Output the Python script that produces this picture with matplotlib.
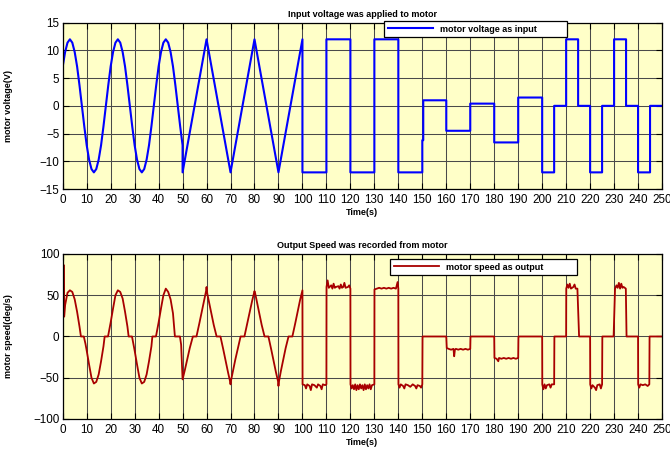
import numpy as np
import matplotlib
matplotlib.use("Agg")
import matplotlib.pyplot as plt

plt.rcParams['font.family'] = ['Liberation Sans', 'DejaVu Sans']

# ---- input voltage: sine part (0-50 s), sampled every second ----
sine_t = list(range(0, 51))
sine_v = [7.1, 9.7, 11.4, 12, 11.4, 9.7, 7.1, 3.7, 0, -3.7,
          -7.1, -9.7, -11.4, -12, -11.4, -9.7, -7.1, -3.7, 0, 3.7,
          7.1, 9.7, 11.4, 12, 11.4, 9.7, 7.1, 3.7, 0, -3.7,
          -7.1, -9.7, -11.4, -12, -11.4, -9.7, -7.1, -3.7, 0, 3.7,
          7.1, 9.7, 11.4, 12, 11.4, 9.7, 7.1, 3.7, 0, -3.7,
          -7.1]
# triangle part (50-100 s)
tri_t = [50, 60, 70, 80, 90, 100]
tri_v = [-12, 12, -12, 12, -12, 12]
# square part (100-250 s): switching times and the level held after each
sq_edges = [100, 110, 120, 130, 140, 150, 150.4, 160, 170, 180, 190, 200,
            205, 210, 215, 220, 225, 230, 235, 240, 245, 250]
sq_levels = [-12, 12, -12, 12, -12, -6.2, 1, -4.5, 0.4, -6.6, 1.5,
             -12, 0, 12, 0, -12, 0, 12, 0, -12, 0]

# ---- recorded motor speed (deg/s) ----
speed_t = [0.55, 0.6, 1, 2, 3, 4, 5, 6, 7, 7.6, 8.8, 9.5, 10, 11, 12, 13, 14, 15, 16, 17,
           17.5, 18.9, 19.5, 20, 21, 22, 23, 24, 25, 26, 27, 27.5, 28.9, 29.5, 30, 31,
           32, 33, 34, 35, 36, 37, 37.4, 38.9, 39.5, 40, 41, 42, 43, 44, 45, 46, 46.8,
           48.9, 49.4, 50,
           51, 52, 53, 54.3, 55.8, 57, 58, 59, 59.8, 60, 60.3, 61, 62, 63, 64.2, 65.8,
           67, 68, 69, 69.7, 70, 70.3, 71, 72, 73, 74.2, 75.8, 77, 78, 79, 80, 80.3, 81,
           82, 83, 84.2, 85.8, 87, 88, 89, 89.8, 90, 90.3, 91, 92, 93, 94.2, 95.8, 97,
           98, 99, 100,
           100.05, 101, 101.5, 102, 103, 103.5, 104, 105, 106, 106.5, 107.5, 108, 108.5,
           109.5, 110,
           110.05, 110.5, 111, 112, 112.5, 113, 113.5, 114, 115, 115.5, 116, 116.5, 117,
           117.5, 118, 119, 119.5, 120,
           120.05, 120.5, 121, 121.5, 122, 122.5, 123, 123.5, 124, 124.5, 125, 125.5,
           126, 126.5, 127, 127.5, 128, 128.5, 129, 130,
           130.05, 131, 132, 133, 134, 135, 136, 137, 138, 139, 139.7, 140,
           140.05, 140.5, 141, 142, 142.5, 143, 144, 145, 146, 147, 147.5, 148, 149,
           149.5, 150,
           150.1, 160,
           160.2, 161, 162, 163, 163.3, 163.6, 164, 165, 166, 167, 168, 169, 170,
           170.1, 180,
           180.1, 181, 181.7, 182, 183, 184, 185, 186, 187, 188, 189, 190,
           190.1, 200,
           200.05, 200.5, 201, 201.5, 202, 203, 203.5, 204, 205,
           205.1, 210,
           210.05, 210.5, 211, 211.5, 212, 213, 213.5, 214, 214.7, 215.4,
           220,
           220.05, 220.5, 221, 222, 222.5, 223, 224, 224.5, 225,
           225.1, 229.8,
           230.4, 231, 231.5, 232, 232.5, 233, 233.5, 234, 234.9, 235.2,
           240,
           240.05, 240.5, 241, 242, 243, 244, 244.7,
           244.8, 250]
speed_v = [86, 24, 38, 53, 56, 54, 45, 30, 12, 0, 0, -9, -17, -34, -50, -57, -55, -46, -30, -12,
           0, 0, 9, 17, 34, 50, 56, 54, 46, 30, 12, 0, 0, -9, -17, -34,
           -50, -57, -55, -46, -30, -12, 0, 0, 9, 17, 34, 50, 58, 54, 45, 28, 0,
           0, -10, -52,
           -40, -27, -14, 0, 0, 16, 30, 44, 55, 60, 52, 42, 28, 14, 0, 0,
           -16, -30, -44, -53, -58, -52, -42, -28, -15, 0, 0, 16, 29, 43, 55, 52, 42,
           28, 14, 0, 0, -16, -30, -44, -54, -60, -53, -42, -28, -14, 0, 0, 16,
           30, 44, 56,
           -58, -59, -63, -58, -60, -65, -58, -59, -62, -58, -60, -64, -58,
           -59, -58,
           60, 68, 59, 62, 58, 64, 59, 60, 61, 58, 63, 59, 60,
           65, 59, 60, 62, 58,
           -58, -63, -59, -64, -58, -65, -59, -64, -58, -63, -59, -65,
           -58, -64, -59, -63, -58, -64, -59, -58,
           57, 58, 59, 58, 59, 58, 59, 58, 59, 58, 66, 58,
           -58, -62, -58, -60, -63, -58, -59, -61, -58, -60, -63, -59, -60,
           -62, -58,
           0, 0,
           -14, -15, -16, -15, -24, -16, -15, -16, -15, -16, -15, -16, -15,
           0, 0,
           -26, -27, -30, -26, -27, -26, -27, -26, -27, -26, -27, -26,
           0, 0,
           -58, -64, -58, -63, -59, -58, -62, -58, -58,
           0, 0,
           58, 63, 59, 64, 58, 60, 63, 58, 58, 0,
           0,
           -58, -63, -59, -62, -65, -59, -58, -63, -58,
           0, 0,
           58, 62, 59, 65, 58, 64, 59, 60, 58, 0,
           0,
           -58, -62, -58, -59, -58, -60, -58,
           0, 0]

# assemble the full voltage trace
sq_t = np.repeat(sq_edges, 2)[1:-1]
sq_v = np.repeat(sq_levels, 2)
volt_t = np.concatenate([sine_t, tri_t, sq_t])
volt_v = np.concatenate([sine_v, tri_v, sq_v])

bg = '#FFFFC8'
xticks = np.arange(0, 251, 10)

fig = plt.figure(figsize=(6.7, 4.5), dpi=100)
ax1 = fig.add_axes([0.0936, 0.58, 0.8945, 0.3696])
ax2 = fig.add_axes([0.0936, 0.0689, 0.8945, 0.3667])


def style_axes(ax, yticks):
    ax.set_facecolor(bg)
    ax.set_xlim(0, 250)
    ax.set_ylim(yticks[0], yticks[-1])
    ax.set_xticks(xticks)
    ax.set_yticks(yticks)
    ax.grid(True, color='#4a4a4a', lw=0.75)
    ax.set_axisbelow(True)
    ax.tick_params(direction='in', top=True, right=True, length=4,
                   width=0.8, labelsize=8.4, pad=2.5)
    ax.tick_params(axis='x', pad=3.5)
    for s in ax.spines.values():
        s.set_linewidth(0.9)


style_axes(ax1, np.arange(-15, 16, 5))
ax1.plot(volt_t, volt_v, color='#0000FF', lw=1.5, label='motor voltage as input')
ax1.set_title('Input voltage was applied to motor', fontsize=6.5,
              fontweight='bold', pad=4)
ax1.set_xlabel('Time(s)', fontsize=6.5, fontweight='bold')
ax1.set_ylabel('motor voltage(V)', fontsize=6.5, fontweight='bold')
ax1.xaxis.set_label_coords(0.5, -0.115)
ax1.yaxis.set_label_coords(-0.083, 0.5)
leg1 = ax1.legend(loc='upper left', bbox_to_anchor=(0.536, 0.87, 0.306, 0.14),
                  mode='expand', borderaxespad=0, fancybox=False,
                  framealpha=1, edgecolor='black', handlelength=5,
                  prop={'size': 6.5, 'weight': 'bold'})
leg1.get_frame().set_linewidth(0.9)

style_axes(ax2, np.arange(-100, 101, 50))
ax2.plot(speed_t, speed_v, color='#A80000', lw=1.3, label='motor speed as output')
ax2.set_title('Output Speed was recorded from motor', fontsize=6.5,
              fontweight='bold', pad=4)
ax2.set_xlabel('Time(s)', fontsize=6.5, fontweight='bold')
ax2.set_ylabel('motor speed(deg/s)', fontsize=6.5, fontweight='bold')
ax2.xaxis.set_label_coords(0.5, -0.115)
ax2.yaxis.set_label_coords(-0.083, 0.5)
leg2 = ax2.legend(loc='upper left', bbox_to_anchor=(0.546, 0.83, 0.3125, 0.14),
                  mode='expand', borderaxespad=0, fancybox=False,
                  framealpha=1, edgecolor='black', handlelength=5,
                  prop={'size': 6.5, 'weight': 'bold'})
leg2.get_frame().set_linewidth(0.9)

fig.savefig('out.png', dpi=100)
